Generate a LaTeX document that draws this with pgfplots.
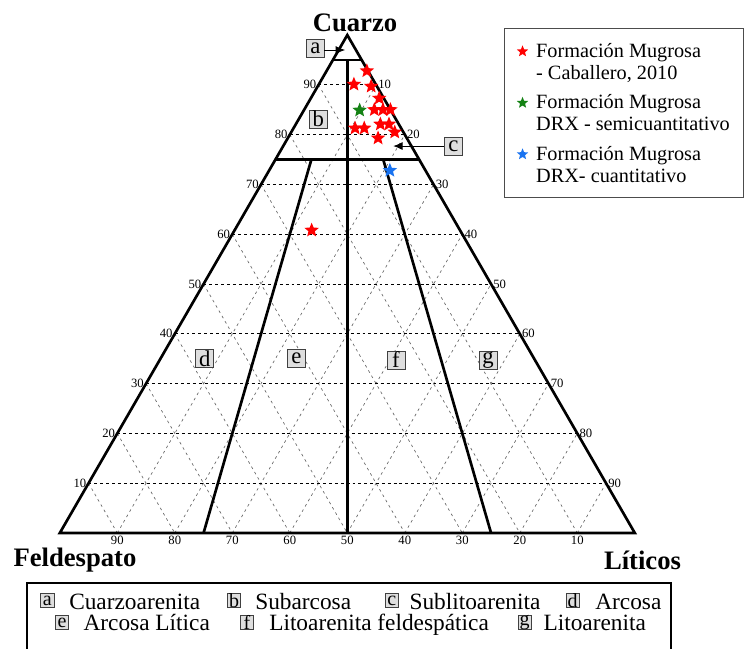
\documentclass[border=0pt]{standalone}
\usepackage{fontspec}
\setmainfont{Liberation Serif}
\usepackage{pgfplots}
\pgfplotsset{compat=1.18}
\usepackage{pgfplotstable}
\usetikzlibrary{arrows.meta}
\definecolor{boxgray}{RGB}{222,222,222}
\definecolor{sgreen}{RGB}{20,130,20}
\definecolor{sblue}{RGB}{25,115,240}

\pgfdeclareplotmark{fstar}{%
  \pgfpathmoveto{\pgfpointpolar{90}{\pgfplotmarksize}}%
  \pgfpathlineto{\pgfpointpolar{126}{0.44\pgfplotmarksize}}%
  \pgfpathlineto{\pgfpointpolar{162}{\pgfplotmarksize}}%
  \pgfpathlineto{\pgfpointpolar{198}{0.44\pgfplotmarksize}}%
  \pgfpathlineto{\pgfpointpolar{234}{\pgfplotmarksize}}%
  \pgfpathlineto{\pgfpointpolar{270}{0.44\pgfplotmarksize}}%
  \pgfpathlineto{\pgfpointpolar{306}{\pgfplotmarksize}}%
  \pgfpathlineto{\pgfpointpolar{342}{0.44\pgfplotmarksize}}%
  \pgfpathlineto{\pgfpointpolar{18}{\pgfplotmarksize}}%
  \pgfpathlineto{\pgfpointpolar{54}{0.44\pgfplotmarksize}}%
  \pgfpathclose
  \pgfusepathqfill
}
\newcommand\twol[2]{\vtop{\hbox{#1}\hbox{#2}}}

% Q = Cuarzo, F = Feldespato, L = Liticos (percent)
\pgfplotstableread{
Q F L
92.8 0.2 7.0
90.1 3.8 6.1
89.7 1.0 9.3
87.3 0.8 11.9
85.0 2.8 12.2
85.0 1.3 13.7
85.0 0.0 15.0
81.3 8.0 10.7
81.3 6.4 12.3
82.1 3.2 14.7
82.1 1.7 16.2
80.5 1.5 18.0
79.3 5.0 15.7
60.8 25.8 13.4
}\caballero
\pgfplotstableread{
Q F L
84.9 5.4 9.7
}\semicuant
\pgfplotstableread{
Q F L
72.8 6.2 21.0
}\cuant

\tikzset{
  hgrid/.style={black, line width=0.6pt, dash pattern=on 2.2pt off 2.2pt},
  dgrid/.style={black!60, line width=0.5pt, dash pattern=on 2pt off 2.6pt},
  thickl/.style={black, line width=2pt},
  lbox/.style={draw=black!75, fill=boxgray, line width=0.6pt, minimum width=13.5pt, minimum height=13.5pt, inner sep=0pt, font=\fontsize{17}{17}\selectfont},
  sbox/.style={draw=black!75, fill=boxgray, line width=0.5pt, minimum width=10pt, minimum height=10.8pt, inner sep=0pt, font=\fontsize{15}{15}\selectfont, text height=8.8pt, text depth=2pt},
  sboxA/.style={sbox, text height=10.5pt, text depth=0.3pt},
  sboxG/.style={sbox, text height=7.5pt, text depth=3.3pt},
  ltext/.style={anchor=base west, inner sep=0pt, text depth=0pt, font=\fontsize{17.5}{17.5}\selectfont},
  tick/.style={inner sep=1.5pt, font=\fontsize{9.5}{11}\selectfont},
}

\begin{document}
\begin{tikzpicture}
\begin{axis}[
  x=4.3125pt, y=4.3125pt,
  xmin=0, xmax=100, ymin=0, ymax=86.6025,
  hide axis, clip=false,
  anchor=origin, at={(0,0)},
  legend style={at={(0.7725,1.0135)}, anchor=north west, draw=black!70, line width=0.6pt,
    font=\fontsize{15.2}{16.7}\selectfont,
    cells={anchor=base west},
    nodes={inner sep=2pt, text height=13.85pt, text depth=20.5pt},
    inner xsep=3pt, inner ysep=5.45pt, row sep=0.25pt},
  legend image code/.code={\path (0pt,0pt) (18.25pt,0pt);
    \draw[#1, mark size=4.5pt] plot coordinates {(10.3pt,4.3pt)};},
]
% invisible frame for the picture size
\path (axis cs:-10.40,92.70) rectangle (axis cs:118.99,-20.17);

% diagonal grid lines
\pgfplotsinvokeforeach{10,20,...,90}{
  \addplot[dgrid, forget plot] coordinates {({(100-#1)/2},{0.8660254*(100-#1)}) ({100-#1},0)};
  \addplot[dgrid, forget plot] coordinates {(#1,0) ({50+#1/2},{0.8660254*(100-#1)})};
}
% horizontal grid lines
\pgfplotsinvokeforeach{10,20,...,90}{
  \addplot[hgrid, forget plot] coordinates {({#1/2},{0.8660254*#1}) ({100-#1/2},{0.8660254*#1})};
}
% class boundaries
\addplot[thickl, forget plot] coordinates {(47.5,82.2724) (52.5,82.2724)};
\addplot[thickl, forget plot] coordinates {(37.5,64.9519) (62.5,64.9519)};
\addplot[thickl, forget plot] coordinates {(50,82.2724) (50,0)};
\addplot[thickl, forget plot] coordinates {(43.75,64.9519) (25,0)};
\addplot[thickl, forget plot] coordinates {(56.25,64.9519) (75,0)};
\draw[thickl] (axis cs:0,0) -- (axis cs:100,0) -- (axis cs:50,86.6025) -- cycle;

% tick labels
\pgfplotsinvokeforeach{10,20,...,90}{
  \node[tick, anchor=east] at (axis cs:{#1/2},{0.8660254*#1}) {#1};
  \node[tick, anchor=west] at (axis cs:{50+#1/2},{0.8660254*(100-#1)}) {#1};
  \node[tick, anchor=north, yshift=-0.5pt] at (axis cs:{100-#1},0) {#1};
}

% vertex titles
\node[anchor=base, inner sep=0pt, font=\fontsize{20}{24}\selectfont\bfseries] at (axis cs:51.34,87.18) {Cuarzo};
\node[anchor=base, inner sep=0pt, font=\fontsize{20}{24}\selectfont\bfseries] at (axis cs:2.64,-5.86) {Feldespato};
\node[anchor=base, inner sep=0pt, font=\fontsize{20}{24}\selectfont\bfseries] at (axis cs:101.34,-6.31) {Líticos};

% field letters
\node[lbox] at (axis cs:44.47,84.26) {a};
\draw[line width=0.6pt, -{Latex[length=7pt,width=6pt]}] (axis cs:46.0,84.0) -- (axis cs:49.6,84.0);
\node[lbox] at (axis cs:44.96,72.0) {b};
\node[lbox] at (axis cs:68.43,67.30) {c};
\draw[line width=0.6pt, -{Latex[length=7pt,width=6pt]}] (axis cs:66.8,67.30) -- (axis cs:58.0,67.30);
\node[lbox] at (axis cs:25.2,30.31) {d};
\node[lbox] at (axis cs:41.13,30.31) {e};
\node[lbox] at (axis cs:58.47,30.09) {f};
\node[lbox] at (axis cs:74.47,30.09) {g};

% bottom key (frame open at the bottom edge, as cut in the reference)
\draw[line width=1.5pt] (axis cs:-5.65,-20.17) -- (axis cs:-5.65,-8.75) -- (axis cs:106.33,-8.75) -- (axis cs:106.33,-20.17);
\node[sbox] at (axis cs:-2.19,-11.74) {a};
\node[ltext] at (axis cs:1.60,-13.22) {Cuarzoarenita};
\node[sboxA] at (axis cs:30.30,-11.74) {b};
\node[ltext] at (axis cs:33.95,-13.22) {Subarcosa};
\node[sbox] at (axis cs:57.72,-11.74) {c};
\node[ltext] at (axis cs:60.78,-13.22) {Sublitoarenita};
\node[sboxA] at (axis cs:89.17,-11.74) {d};
\node[ltext] at (axis cs:93.08,-13.22) {Arcosa};
\node[sbox] at (axis cs:0.38,-15.57) {e};
\node[ltext] at (axis cs:4.09,-16.87) {Arcosa Lítica};
\node[sboxA] at (axis cs:32.56,-15.57) {f};
\node[ltext] at (axis cs:36.38,-16.87) {Litoarenita feldespática};
\node[sboxG] at (axis cs:80.82,-15.57) {g};
\node[ltext] at (axis cs:84.09,-16.87) {Litoarenita};

% data
\addplot[only marks, mark=fstar, mark size=5.7pt, color=red]
  table[x expr={\thisrow{L}+0.5*\thisrow{Q}}, y expr={0.8660254*\thisrow{Q}}] {\caballero};
\addlegendentry{\twol{Formación Mugrosa}{- Caballero, 2010}}
\addplot[only marks, mark=fstar, mark size=5.7pt, color=sgreen]
  table[x expr={\thisrow{L}+0.5*\thisrow{Q}}, y expr={0.8660254*\thisrow{Q}}] {\semicuant};
\addlegendentry{\twol{Formación Mugrosa}{DRX - semicuantitativo\hspace{5.2pt}}}
\addplot[only marks, mark=fstar, mark size=5.7pt, color=sblue]
  table[x expr={\thisrow{L}+0.5*\thisrow{Q}}, y expr={0.8660254*\thisrow{Q}}] {\cuant};
\addlegendentry{\twol{Formación Mugrosa}{DRX- cuantitativo}}
\end{axis}
\end{tikzpicture}
\end{document}
